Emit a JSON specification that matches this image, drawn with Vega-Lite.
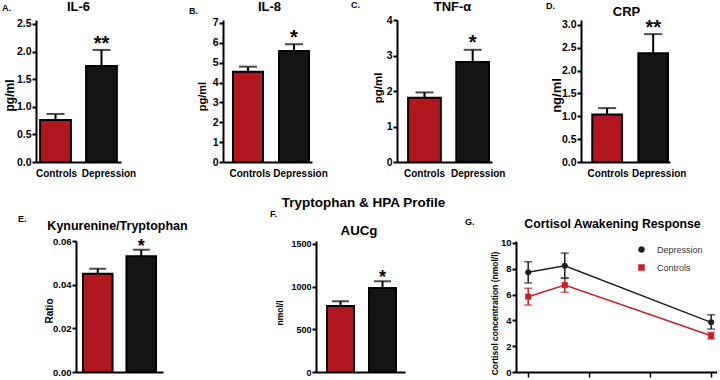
{
  "$schema": "https://vega.github.io/schema/vega-lite/v6.json",
  "padding": 0,
  "background": "white",
  "config": {
    "view": {"stroke": null},
    "font": "Liberation Sans",
    "axis": {"labelFont": "Liberation Sans", "titleFont": "Liberation Sans", "labelFontWeight": "bold", "titleFontWeight": "bold", "labelColor": "#000", "titleColor": "#000", "domainColor": "#000", "tickColor": "#000", "domainWidth": 2, "tickWidth": 2, "grid": false, "labelOverlap": false},
    "title": {"font": "Liberation Sans", "fontWeight": "bold", "color": "#000"}
  },
  "resolve": {"scale": {"color": "independent", "shape": "independent"}, "legend": {"color": "independent", "shape": "independent"}},
  "spacing": 18,
  "vconcat": [
    {
      "spacing": 1,
      "hconcat": [
        {"width": 1, "height": 1, "data": {"values": [{"k": 0}]}, "mark": {"type": "point", "opacity": 0, "size": 0}, "encoding": {}},
        {
          "spacing": 23,
          "hconcat": [
            {
              "spacing": 53,
              "hconcat": [
                {
                  "width": 85, "height": 142,
                  "title": {"text": "A.", "anchor": "start", "frame": "group", "offset": 0, "dx": -34, "dy": 20, "fontSize": 9, "baseline": "alphabetic"},
                  "data": {"values": [{"group": "Controls", "mean": 0.76, "upper": 0.87, "sig": ""}, {"group": "Depression", "mean": 1.74, "upper": 2.03, "sig": "**"}]},
                  "encoding": {"x": {"field": "group", "type": "nominal", "sort": null, "scale": {"paddingInner": 0.33, "paddingOuter": 0.09}, "axis": {"title": "IL-6", "titleX": 42, "titleY": -151.6, "titleFontSize": 13, "titleBaseline": "alphabetic", "titleAlign": "center", "labelAngle": 0, "labelFontSize": 10, "labelPadding": 6, "ticks": false, "labelOffset": {"condition": {"test": "datum.value === 'Depression'", "value": 7.5}, "value": 1}}}},
                  "layer": [
                    {"mark": {"type": "bar", "stroke": "#000", "strokeWidth": 2}, "encoding": {"y": {"field": "mean", "type": "quantitative", "title": "pg/ml", "scale": {"domain": [0, 2.572], "nice": false}, "axis": {"values": [0, 0.5, 1, 1.5, 2, 2.5], "format": ".1f", "labelOverlap": false, "titleX": -27, "titleY": 75, "titleFontSize": 12, "titleBaseline": "middle", "labelFontSize": 10.5, "tickSize": 4, "labelPadding": 1}}, "fill": {"field": "group", "type": "nominal", "scale": {"domain": ["Controls", "Depression"], "range": ["#B2161E", "#141414"]}, "legend": null}}},
                    {"mark": {"type": "rule", "strokeWidth": 2, "color": "#000"}, "encoding": {"y": {"field": "mean", "type": "quantitative", "title": "pg/ml", "scale": {"domain": [0, 2.572], "nice": false}, "axis": {"values": [0, 0.5, 1, 1.5, 2, 2.5], "format": ".1f", "labelOverlap": false, "titleX": -27, "titleY": 75, "titleFontSize": 12, "titleBaseline": "middle", "labelFontSize": 10.5, "tickSize": 4, "labelPadding": 1}}, "y2": {"field": "upper"}}},
                    {"mark": {"type": "tick", "orient": "horizontal", "thickness": 2, "size": 18, "color": "#000"}, "encoding": {"y": {"field": "upper", "type": "quantitative", "title": "pg/ml", "scale": {"domain": [0, 2.572], "nice": false}, "axis": {"values": [0, 0.5, 1, 1.5, 2, 2.5], "format": ".1f", "labelOverlap": false, "titleX": -27, "titleY": 75, "titleFontSize": 12, "titleBaseline": "middle", "labelFontSize": 10.5, "tickSize": 4, "labelPadding": 1}}}},
                    {"mark": {"type": "text", "fontSize": 20, "fontWeight": "bold", "baseline": "alphabetic", "dy": 0, "color": "#000"}, "encoding": {"y": {"field": "upper", "type": "quantitative", "title": "pg/ml", "scale": {"domain": [0, 2.572], "nice": false}, "axis": {"values": [0, 0.5, 1, 1.5, 2, 2.5], "format": ".1f", "labelOverlap": false, "titleX": -27, "titleY": 75, "titleFontSize": 12, "titleBaseline": "middle", "labelFontSize": 10.5, "tickSize": 4, "labelPadding": 1}}, "text": {"field": "sig"}}}
                  ]
                },
                {
                  "width": 89, "height": 142,
                  "title": {"text": "B.", "anchor": "start", "frame": "group", "offset": 0, "dx": -34, "dy": 23, "fontSize": 9, "baseline": "alphabetic"},
                  "data": {"values": [{"group": "Controls", "mean": 4.55, "upper": 4.8, "sig": ""}, {"group": "Depression", "mean": 5.59, "upper": 5.93, "sig": "*"}]},
                  "encoding": {"x": {"field": "group", "type": "nominal", "sort": null, "scale": {"paddingInner": 0.348, "paddingOuter": 0.141, "align": 0.77}, "axis": {"title": "IL-8", "titleX": 46, "titleY": -151.6, "titleFontSize": 13, "titleBaseline": "alphabetic", "titleAlign": "center", "labelAngle": 0, "labelFontSize": 10, "labelPadding": 6, "ticks": false, "labelOffset": {"condition": {"test": "datum.value === 'Depression'", "value": 6.5}, "value": 2}}}},
                  "layer": [
                    {"mark": {"type": "bar", "stroke": "#000", "strokeWidth": 2}, "encoding": {"y": {"field": "mean", "type": "quantitative", "title": "pg/ml", "scale": {"domain": [0, 7.151], "nice": false}, "axis": {"values": [0, 1, 2, 3, 4, 5, 6, 7], "format": "d", "labelOverlap": false, "titleX": -21, "titleY": 76, "titleFontSize": 11, "titleBaseline": "middle", "labelFontSize": 10.5, "tickSize": 4, "labelPadding": 1}}, "fill": {"field": "group", "type": "nominal", "scale": {"domain": ["Controls", "Depression"], "range": ["#B2161E", "#141414"]}, "legend": null}}},
                    {"mark": {"type": "rule", "strokeWidth": 2, "color": "#000"}, "encoding": {"y": {"field": "mean", "type": "quantitative", "title": "pg/ml", "scale": {"domain": [0, 7.151], "nice": false}, "axis": {"values": [0, 1, 2, 3, 4, 5, 6, 7], "format": "d", "labelOverlap": false, "titleX": -21, "titleY": 76, "titleFontSize": 11, "titleBaseline": "middle", "labelFontSize": 10.5, "tickSize": 4, "labelPadding": 1}}, "y2": {"field": "upper"}}},
                    {"mark": {"type": "tick", "orient": "horizontal", "thickness": 2, "size": 18, "color": "#000"}, "encoding": {"y": {"field": "upper", "type": "quantitative", "title": "pg/ml", "scale": {"domain": [0, 7.151], "nice": false}, "axis": {"values": [0, 1, 2, 3, 4, 5, 6, 7], "format": "d", "labelOverlap": false, "titleX": -21, "titleY": 76, "titleFontSize": 11, "titleBaseline": "middle", "labelFontSize": 10.5, "tickSize": 4, "labelPadding": 1}}}},
                    {"mark": {"type": "text", "fontSize": 20, "fontWeight": "bold", "baseline": "alphabetic", "dy": 0, "color": "#000"}, "encoding": {"y": {"field": "upper", "type": "quantitative", "title": "pg/ml", "scale": {"domain": [0, 7.151], "nice": false}, "axis": {"values": [0, 1, 2, 3, 4, 5, 6, 7], "format": "d", "labelOverlap": false, "titleX": -21, "titleY": 76, "titleFontSize": 11, "titleBaseline": "middle", "labelFontSize": 10.5, "tickSize": 4, "labelPadding": 1}}, "text": {"field": "sig"}}}
                  ]
                }
              ]
            },
            {
              "spacing": 41,
              "hconcat": [
                {
                  "width": 95, "height": 142,
                  "title": {"text": "C.", "anchor": "start", "frame": "group", "offset": 0, "dx": -46, "dy": 17, "fontSize": 9, "baseline": "alphabetic"},
                  "data": {"values": [{"group": "Controls", "mean": 1.81, "upper": 1.96, "sig": ""}, {"group": "Depression", "mean": 2.82, "upper": 3.16, "sig": "*"}]},
                  "encoding": {"x": {"field": "group", "type": "nominal", "sort": null, "scale": {"paddingInner": 0.32, "paddingOuter": 0.146, "align": 0.79}, "axis": {"title": "TNF-α", "titleX": 55, "titleY": -151.6, "titleFontSize": 13, "titleBaseline": "alphabetic", "titleAlign": "center", "labelAngle": 0, "labelFontSize": 10, "labelPadding": 6, "ticks": false, "labelOffset": {"condition": {"test": "datum.value === 'Depression'", "value": 5.5}, "value": 0}}}},
                  "layer": [
                    {"mark": {"type": "bar", "stroke": "#000", "strokeWidth": 2}, "encoding": {"y": {"field": "mean", "type": "quantitative", "title": "pg/ml", "scale": {"domain": [0, 4], "nice": false}, "axis": {"values": [0, 1, 2, 3, 4], "format": "d", "labelOverlap": false, "titleX": -19, "titleY": 67.5, "titleFontSize": 11.5, "titleBaseline": "middle", "labelFontSize": 10.5, "tickSize": 4, "labelPadding": 1}}, "fill": {"field": "group", "type": "nominal", "scale": {"domain": ["Controls", "Depression"], "range": ["#B2161E", "#141414"]}, "legend": null}}},
                    {"mark": {"type": "rule", "strokeWidth": 2, "color": "#000"}, "encoding": {"y": {"field": "mean", "type": "quantitative", "title": "pg/ml", "scale": {"domain": [0, 4], "nice": false}, "axis": {"values": [0, 1, 2, 3, 4], "format": "d", "labelOverlap": false, "titleX": -19, "titleY": 67.5, "titleFontSize": 11.5, "titleBaseline": "middle", "labelFontSize": 10.5, "tickSize": 4, "labelPadding": 1}}, "y2": {"field": "upper"}}},
                    {"mark": {"type": "tick", "orient": "horizontal", "thickness": 2, "size": 18, "color": "#000"}, "encoding": {"y": {"field": "upper", "type": "quantitative", "title": "pg/ml", "scale": {"domain": [0, 4], "nice": false}, "axis": {"values": [0, 1, 2, 3, 4], "format": "d", "labelOverlap": false, "titleX": -19, "titleY": 67.5, "titleFontSize": 11.5, "titleBaseline": "middle", "labelFontSize": 10.5, "tickSize": 4, "labelPadding": 1}}}},
                    {"mark": {"type": "text", "fontSize": 20, "fontWeight": "bold", "baseline": "alphabetic", "dy": -1, "color": "#000"}, "encoding": {"y": {"field": "upper", "type": "quantitative", "title": "pg/ml", "scale": {"domain": [0, 4], "nice": false}, "axis": {"values": [0, 1, 2, 3, 4], "format": "d", "labelOverlap": false, "titleX": -19, "titleY": 67.5, "titleFontSize": 11.5, "titleBaseline": "middle", "labelFontSize": 10.5, "tickSize": 4, "labelPadding": 1}}, "text": {"field": "sig"}}}
                  ]
                },
                {
                  "width": 89, "height": 142,
                  "title": {"text": "D.", "anchor": "start", "frame": "group", "offset": 0, "dx": -35, "dy": 12.6, "fontSize": 9, "baseline": "alphabetic"},
                  "data": {"values": [{"group": "Controls", "mean": 1.04, "upper": 1.18, "sig": ""}, {"group": "Depression", "mean": 2.38, "upper": 2.8, "sig": "**"}]},
                  "encoding": {"x": {"field": "group", "type": "nominal", "sort": null, "scale": {"paddingInner": 0.356, "paddingOuter": 0.144, "align": 0.85}, "axis": {"title": "CRP", "titleX": 45, "titleY": -147, "titleFontSize": 13, "titleBaseline": "alphabetic", "titleAlign": "center", "labelAngle": 0, "labelFontSize": 10, "labelPadding": 6, "ticks": false, "labelOffset": {"condition": {"test": "datum.value === 'Depression'", "value": 6}, "value": 1}}}},
                  "layer": [
                    {"mark": {"type": "bar", "stroke": "#000", "strokeWidth": 2}, "encoding": {"y": {"field": "mean", "type": "quantitative", "title": "ng/ml", "scale": {"domain": [0, 3.109], "nice": false}, "axis": {"values": [0, 0.5, 1, 1.5, 2, 2.5, 3], "format": ".1f", "labelOverlap": false, "titleX": -25, "titleY": 75, "titleFontSize": 13, "titleBaseline": "middle", "labelFontSize": 10.5, "tickSize": 4, "labelPadding": 1}}, "fill": {"field": "group", "type": "nominal", "scale": {"domain": ["Controls", "Depression"], "range": ["#B2161E", "#141414"]}, "legend": null}}},
                    {"mark": {"type": "rule", "strokeWidth": 2, "color": "#000"}, "encoding": {"y": {"field": "mean", "type": "quantitative", "title": "ng/ml", "scale": {"domain": [0, 3.109], "nice": false}, "axis": {"values": [0, 0.5, 1, 1.5, 2, 2.5, 3], "format": ".1f", "labelOverlap": false, "titleX": -25, "titleY": 75, "titleFontSize": 13, "titleBaseline": "middle", "labelFontSize": 10.5, "tickSize": 4, "labelPadding": 1}}, "y2": {"field": "upper"}}},
                    {"mark": {"type": "tick", "orient": "horizontal", "thickness": 2, "size": 18, "color": "#000"}, "encoding": {"y": {"field": "upper", "type": "quantitative", "title": "ng/ml", "scale": {"domain": [0, 3.109], "nice": false}, "axis": {"values": [0, 0.5, 1, 1.5, 2, 2.5, 3], "format": ".1f", "labelOverlap": false, "titleX": -25, "titleY": 75, "titleFontSize": 13, "titleBaseline": "middle", "labelFontSize": 10.5, "tickSize": 4, "labelPadding": 1}}}},
                    {"mark": {"type": "text", "fontSize": 20, "fontWeight": "bold", "baseline": "alphabetic", "dy": 0, "color": "#000"}, "encoding": {"y": {"field": "upper", "type": "quantitative", "title": "ng/ml", "scale": {"domain": [0, 3.109], "nice": false}, "axis": {"values": [0, 0.5, 1, 1.5, 2, 2.5, 3], "format": ".1f", "labelOverlap": false, "titleX": -25, "titleY": 75, "titleFontSize": 13, "titleBaseline": "middle", "labelFontSize": 10.5, "tickSize": 4, "labelPadding": 1}}, "text": {"field": "sig"}}}
                  ]
                }
              ]
            }
          ]
        }
      ]
    },
    {
      "spacing": 17,
      "resolve": {"scale": {"color": "independent", "shape": "independent"}, "legend": {"color": "independent", "shape": "independent"}},
      "title": {"text": "Tryptophan & HPA Profile", "anchor": "middle", "frame": "bounds", "offset": 0, "fontSize": 13.5, "baseline": "alphabetic", "dx": 5, "dy": 11},
      "hconcat": [
        {"width": 1, "height": 1, "data": {"values": [{"k": 0}]}, "mark": {"type": "point", "opacity": 0, "size": 0}, "encoding": {}},
        {
          "spacing": 60,
          "resolve": {"scale": {"color": "independent", "shape": "independent"}, "legend": {"color": "independent", "shape": "independent"}},
          "hconcat": [
            {
              "spacing": 82,
              "hconcat": [
                {
                  "width": 87, "height": 131,
                  "title": {"text": "E.", "anchor": "start", "frame": "group", "offset": 0, "dx": -58, "dy": 11.5, "fontSize": 9, "baseline": "alphabetic"},
                  "data": {"values": [{"group": "Controls", "mean": 0.045, "upper": 0.0473, "sig": ""}, {"group": "Depression", "mean": 0.053, "upper": 0.056, "sig": "*"}]},
                  "encoding": {"x": {"field": "group", "type": "nominal", "sort": null, "scale": {"paddingInner": 0.32, "paddingOuter": 0.16}, "axis": {"title": "Kynurenine/Tryptophan", "titleX": 41, "titleY": -142.5, "titleFontSize": 12.5, "titleBaseline": "alphabetic", "titleAlign": "center", "labels": false, "ticks": false}}},
                  "layer": [
                    {"mark": {"type": "bar", "stroke": "#000", "strokeWidth": 2}, "encoding": {"y": {"field": "mean", "type": "quantitative", "title": "Ratio", "scale": {"domain": [0, 0.06], "nice": false}, "axis": {"values": [0, 0.02, 0.04, 0.06], "format": ".2f", "labelOverlap": false, "titleX": -27, "titleY": 69.5, "titleFontSize": 10, "titleBaseline": "middle", "labelFontSize": 9.5, "tickSize": 4, "labelPadding": 1}}, "fill": {"field": "group", "type": "nominal", "scale": {"domain": ["Controls", "Depression"], "range": ["#B2161E", "#141414"]}, "legend": null}}},
                    {"mark": {"type": "rule", "strokeWidth": 2, "color": "#000"}, "encoding": {"y": {"field": "mean", "type": "quantitative", "title": "Ratio", "scale": {"domain": [0, 0.06], "nice": false}, "axis": {"values": [0, 0.02, 0.04, 0.06], "format": ".2f", "labelOverlap": false, "titleX": -27, "titleY": 69.5, "titleFontSize": 10, "titleBaseline": "middle", "labelFontSize": 9.5, "tickSize": 4, "labelPadding": 1}}, "y2": {"field": "upper"}}},
                    {"mark": {"type": "tick", "orient": "horizontal", "thickness": 2, "size": 17, "color": "#000"}, "encoding": {"y": {"field": "upper", "type": "quantitative", "title": "Ratio", "scale": {"domain": [0, 0.06], "nice": false}, "axis": {"values": [0, 0.02, 0.04, 0.06], "format": ".2f", "labelOverlap": false, "titleX": -27, "titleY": 69.5, "titleFontSize": 10, "titleBaseline": "middle", "labelFontSize": 9.5, "tickSize": 4, "labelPadding": 1}}}},
                    {"mark": {"type": "text", "fontSize": 18, "fontWeight": "bold", "baseline": "alphabetic", "dy": 2, "color": "#000"}, "encoding": {"y": {"field": "upper", "type": "quantitative", "title": "Ratio", "scale": {"domain": [0, 0.06], "nice": false}, "axis": {"values": [0, 0.02, 0.04, 0.06], "format": ".2f", "labelOverlap": false, "titleX": -27, "titleY": 69.5, "titleFontSize": 10, "titleBaseline": "middle", "labelFontSize": 9.5, "tickSize": 4, "labelPadding": 1}}, "text": {"field": "sig"}}}
                  ]
                },
                {
                  "width": 89, "height": 131,
                  "title": {"text": "F.", "anchor": "start", "frame": "group", "offset": 0, "dx": -46, "dy": 2, "fontSize": 9, "baseline": "alphabetic"},
                  "data": {"values": [{"group": "Controls", "mean": 773, "upper": 828, "sig": ""}, {"group": "Depression", "mean": 984, "upper": 1063, "sig": "*"}]},
                  "encoding": {"x": {"field": "group", "type": "nominal", "sort": null, "scale": {"paddingInner": 0.357, "paddingOuter": 0.238, "align": 0.55}, "axis": {"title": "AUCg", "titleX": 42.5, "titleY": -137.2, "titleFontSize": 13.3, "titleBaseline": "alphabetic", "titleAlign": "center", "labels": false, "ticks": false}}},
                  "layer": [
                    {"mark": {"type": "bar", "stroke": "#000", "strokeWidth": 2}, "encoding": {"y": {"field": "mean", "type": "quantitative", "title": "nmol/l", "scale": {"domain": [0, 1535], "nice": false}, "axis": {"values": [0, 500, 1000, 1500], "format": "d", "labelOverlap": false, "titleX": -37, "titleY": 71.5, "titleFontSize": 8.5, "titleBaseline": "middle", "labelFontSize": 9, "tickSize": 4, "labelPadding": 1}}, "fill": {"field": "group", "type": "nominal", "scale": {"domain": ["Controls", "Depression"], "range": ["#B2161E", "#141414"]}, "legend": null}}},
                    {"mark": {"type": "rule", "strokeWidth": 2, "color": "#000"}, "encoding": {"y": {"field": "mean", "type": "quantitative", "title": "nmol/l", "scale": {"domain": [0, 1535], "nice": false}, "axis": {"values": [0, 500, 1000, 1500], "format": "d", "labelOverlap": false, "titleX": -37, "titleY": 71.5, "titleFontSize": 8.5, "titleBaseline": "middle", "labelFontSize": 9, "tickSize": 4, "labelPadding": 1}}, "y2": {"field": "upper"}}},
                    {"mark": {"type": "tick", "orient": "horizontal", "thickness": 2, "size": 17, "color": "#000"}, "encoding": {"y": {"field": "upper", "type": "quantitative", "title": "nmol/l", "scale": {"domain": [0, 1535], "nice": false}, "axis": {"values": [0, 500, 1000, 1500], "format": "d", "labelOverlap": false, "titleX": -37, "titleY": 71.5, "titleFontSize": 8.5, "titleBaseline": "middle", "labelFontSize": 9, "tickSize": 4, "labelPadding": 1}}}},
                    {"mark": {"type": "text", "fontSize": 18, "fontWeight": "bold", "baseline": "alphabetic", "dy": 2, "color": "#000"}, "encoding": {"y": {"field": "upper", "type": "quantitative", "title": "nmol/l", "scale": {"domain": [0, 1535], "nice": false}, "axis": {"values": [0, 500, 1000, 1500], "format": "d", "labelOverlap": false, "titleX": -37, "titleY": 71.5, "titleFontSize": 8.5, "titleBaseline": "middle", "labelFontSize": 9, "tickSize": 4, "labelPadding": 1}}, "text": {"field": "sig"}}}
                  ]
                }
              ]
            },
            {
              "width": 201, "height": 131,
              "title": {"text": "G.", "anchor": "start", "frame": "group", "offset": 0, "dx": -51, "dy": 16.5, "fontSize": 9, "baseline": "alphabetic"},
              "data": {"values": [
                {"time": 0, "group": "Depression", "mean": 7.73, "lo": 6.9, "hi": 8.55},
                {"time": 15, "group": "Depression", "mean": 8.24, "lo": 7.26, "hi": 9.22},
                {"time": 75, "group": "Depression", "mean": 3.85, "lo": 3.33, "hi": 4.44},
                {"time": 0, "group": "Controls", "mean": 5.84, "lo": 5.19, "hi": 6.49},
                {"time": 15, "group": "Controls", "mean": 6.74, "lo": 6.18, "hi": 7.31},
                {"time": 75, "group": "Controls", "mean": 2.81, "lo": 2.56, "hi": 3.07}
              ]},
              "encoding": {
                "x": {"field": "time", "type": "quantitative", "scale": {"domain": [-5, 77.4], "nice": false, "zero": false}, "axis": {"values": [0, 25, 50, 75], "labels": false, "tickSize": 5, "tickWidth": 1.5, "title": "Cortisol Awakening Response", "titleX": 96, "titleY": -144.6, "titleFontSize": 12.3, "titleBaseline": "alphabetic", "titleAlign": "center"}},
                "color": {"field": "group", "type": "nominal", "scale": {"domain": ["Depression", "Controls"], "range": ["#1e1e1e", "#c8202a"]}, "legend": {"title": null, "orient": "none", "legendX": 121, "legendY": 4, "padding": 0, "labelFont": "Liberation Sans", "labelFontSize": 9, "labelColor": "#333", "symbolSize": 36, "labelOffset": 11, "rowPadding": 8, "encode": {"symbols": {"update": {"shape": {"signal": "datum.value === 'Depression' ? 'M-2.83,-0.25H2.83V0.25H-2.83Z M0,-1A1,1 0 1,1 0,1A1,1 0 1,1 0,-1Z' : 'M-2.83,-0.25H2.83V0.25H-2.83Z M-1,-1H1V1H-1Z'"}, "fill": {"signal": "datum.value === 'Depression' ? '#1e1e1e' : '#c8202a'"}, "stroke": {"signal": "datum.value === 'Depression' ? '#1e1e1e' : '#c8202a'"}, "strokeWidth": {"value": 0.5}, "opacity": {"value": 1}}}}}}
              },
              "layer": [
                {"mark": {"type": "line", "strokeWidth": 1.5}, "encoding": {"y": {"field": "mean", "type": "quantitative", "title": "Cortisol concentration (nmol/l)", "scale": {"domain": [0, 10.155], "nice": false}, "axis": {"values": [0, 2, 4, 6, 8, 10], "format": "d", "labelOverlap": false, "titleX": -22, "titleY": 72, "titleFontSize": 8.5, "titleBaseline": "middle", "labelFontSize": 9.5, "tickSize": 4, "labelPadding": 1}}}},
                {"mark": {"type": "rule", "strokeWidth": 1.5}, "encoding": {"y": {"field": "lo", "type": "quantitative", "title": "Cortisol concentration (nmol/l)", "scale": {"domain": [0, 10.155], "nice": false}, "axis": {"values": [0, 2, 4, 6, 8, 10], "format": "d", "labelOverlap": false, "titleX": -22, "titleY": 72, "titleFontSize": 8.5, "titleBaseline": "middle", "labelFontSize": 9.5, "tickSize": 4, "labelPadding": 1}}, "y2": {"field": "hi"}}},
                {"mark": {"type": "tick", "orient": "horizontal", "thickness": 1.5, "size": 8}, "encoding": {"y": {"field": "hi", "type": "quantitative", "title": "Cortisol concentration (nmol/l)", "scale": {"domain": [0, 10.155], "nice": false}, "axis": {"values": [0, 2, 4, 6, 8, 10], "format": "d", "labelOverlap": false, "titleX": -22, "titleY": 72, "titleFontSize": 8.5, "titleBaseline": "middle", "labelFontSize": 9.5, "tickSize": 4, "labelPadding": 1}}}},
                {"mark": {"type": "tick", "orient": "horizontal", "thickness": 1.5, "size": 8}, "encoding": {"y": {"field": "lo", "type": "quantitative", "title": "Cortisol concentration (nmol/l)", "scale": {"domain": [0, 10.155], "nice": false}, "axis": {"values": [0, 2, 4, 6, 8, 10], "format": "d", "labelOverlap": false, "titleX": -22, "titleY": 72, "titleFontSize": 8.5, "titleBaseline": "middle", "labelFontSize": 9.5, "tickSize": 4, "labelPadding": 1}}}},
                {"mark": {"type": "point", "filled": true, "opacity": 1, "size": 36}, "encoding": {"y": {"field": "mean", "type": "quantitative", "title": "Cortisol concentration (nmol/l)", "scale": {"domain": [0, 10.155], "nice": false}, "axis": {"values": [0, 2, 4, 6, 8, 10], "format": "d", "labelOverlap": false, "titleX": -22, "titleY": 72, "titleFontSize": 8.5, "titleBaseline": "middle", "labelFontSize": 9.5, "tickSize": 4, "labelPadding": 1}}, "shape": {"field": "group", "type": "nominal", "scale": {"domain": ["Depression", "Controls"], "range": ["circle", "square"]}, "legend": null}}}
              ]
            }
          ]
        }
      ]
    }
  ]
}
